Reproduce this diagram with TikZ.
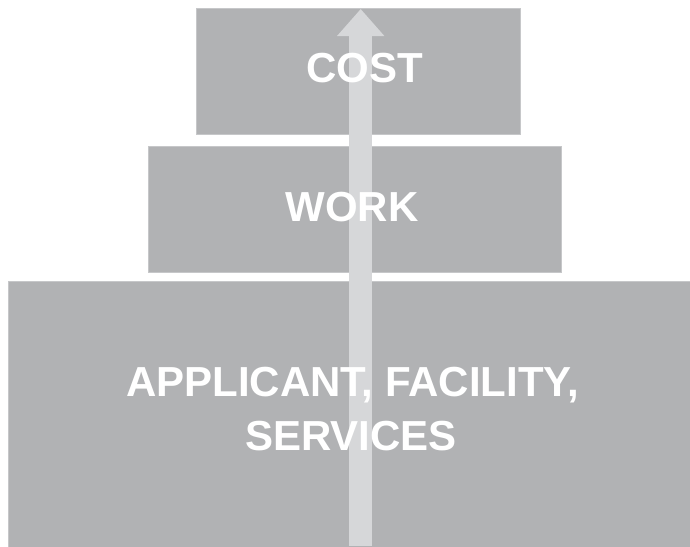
\documentclass[tikz,border=0pt]{standalone}
\usepackage{fontspec}
\setmainfont{Liberation Sans}
\usetikzlibrary{arrows.meta}
\definecolor{boxgray}{HTML}{B1B2B4}
\definecolor{boxedge}{HTML}{C6C7C9}
\definecolor{arrowgray}{HTML}{D6D7D9}
\begin{document}
\begin{tikzpicture}[x=1pt,y=-1pt,
  tier/.style={rectangle, fill=boxgray, draw=boxedge, line width=0.8pt, inner sep=0pt},
  label/.style={text=white, font=\fontsize{42}{50}\selectfont\bfseries, anchor=base, inner sep=0pt}]
\useasboundingbox (0,0) rectangle (690,546);
% tiers
\node[tier, minimum width=324pt, minimum height=126pt] (cost) at (358,71) {};
\node[tier, minimum width=413pt, minimum height=126pt] (work) at (354.5,209) {};
\node[tier, minimum width=682pt, minimum height=267pt] (base) at (349,414.5) {};
% arrow
\coordinate (arrowbot) at (360.7,546);
\coordinate (arrowtop) at (360.7,9);
\draw[arrowgray, line width=22.7pt, -{Triangle[width=45.6pt,length=27pt]}] (arrowbot) -- (arrowtop);
% texts
\node[label] (costtxt) at (365,82) {COST};
\node[label] (worktxt) at (352,221) {WORK};
\node[label] (basetxt1) at (352.5,396.7) {APPLICANT, FACILITY,};
\node[label] (basetxt2) at (351,450) {SERVICES};
\end{tikzpicture}
\end{document}
